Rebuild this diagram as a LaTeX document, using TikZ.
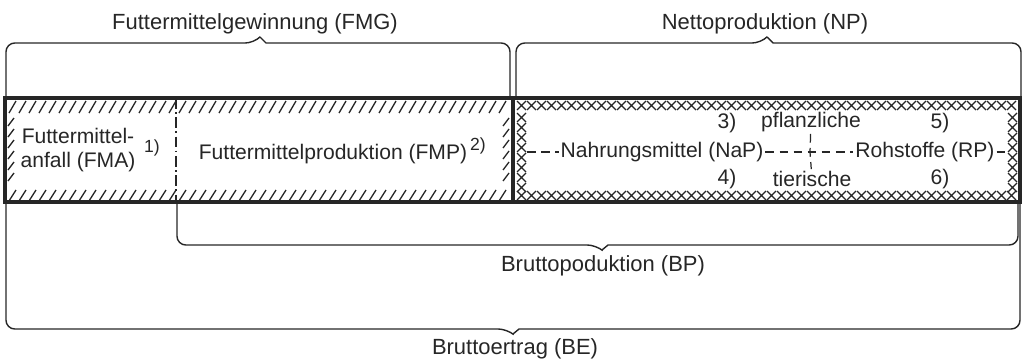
\documentclass[tikz,border=0pt]{standalone}
\usepackage{fontspec}
\setmainfont{Liberation Sans}

\tikzset{
    band/.style={line width=2.2pt},
    bracket/.style={line width=0.8pt, rounded corners=5pt},
    hatch/.style={line width=0.75pt},
    lbl/.style={font=\fontsize{12}{14}\selectfont, inner sep=1pt},
    biglbl/.style={font=\fontsize{12.5}{15}\selectfont, inner sep=1pt},
    note/.style={font=\fontsize{10}{12}\selectfont, inner sep=1pt},
    dashline/.style={line width=0.7pt, dash pattern=on 5pt off 3pt},
}

\begin{document}
\begin{tikzpicture}[x=0.02cm, y=-0.02cm, color=black!85]
    \useasboundingbox (0,0) rectangle (1023,362);

    % braces above
    \draw[bracket] (6,97) |- (254,43) [sharp corners] -- (260,37) -- (266,43)
        [rounded corners=5pt] -| (510,97);
    \draw[bracket] (516,97) |- (761,43) [sharp corners] -- (767,37) -- (773,43)
        [rounded corners=5pt] -| (1021,97);
    \node[biglbl] (fmg) at (255,24) {Futtermittelgewinnung (FMG)};
    \node[biglbl] (np) at (765,24) {Nettoproduktion (NP)};

    % braces below
    \draw[bracket] (177,203) |- (596,245) [sharp corners] -- (602,250) -- (608,245)
        [rounded corners=5pt] -| (1018,203);
    \draw[bracket] (6,203) |- (507,329) [sharp corners] -- (513,334) -- (519,329)
        [rounded corners=5pt] -| (1020,203);
    \node[biglbl] (bp) at (603,266) {Bruttopoduktion (BP)};
    \node[biglbl] (be) at (515,349) {Bruttoertrag (BE)};

    % hatching, left part
    \foreach \x in {9,19,...,505}
        \draw[hatch] (\x,113) -- ++(7,-12) (\x,201) -- ++(7,-11);
    \foreach \y in {126,137,...,186} {
        \draw[hatch] (8,\y) -- ++(6,-8);
        \draw[hatch] (503,\y) -- ++(6,-8);
    }

    % crosses, right part
    \foreach \x in {517,527,...,1007} {
        \draw[hatch] (\x,101) -- ++(9,9) (\x,110) -- ++(9,-9);
        \draw[hatch] (\x,191) -- ++(9,9) (\x,200) -- ++(9,-9);
    }
    \foreach \y in {113,123,...,183} {
        \draw[hatch] (517,\y) -- ++(9,9) (517,\y+9) -- ++(9,-9);
        \draw[hatch] (1008,\y) -- ++(9,9) (1008,\y+9) -- ++(9,-9);
    }

    % the band
    \draw[band] (5,98) rectangle (1020,202);
    \draw[band] (513,98) -- (513,202);
    \draw[line width=0.8pt, dash pattern=on 6pt off 2pt on 1pt off 2pt] (176,98) -- (176,202);

    % left part
    \node[lbl, align=center] (fma) at (78,150) {Futtermittel-\\anfall (FMA)};
    \node[note] (n1) at (152,148) {1)};
    \node[lbl] (fmp) at (333,154) {Futtermittelproduktion (FMP)};
    \node[note] (n2) at (478,146) {2)};

    % right part
    \node[lbl] (nap) at (662,152) {Nahrungsmittel (NaP)};
    \node[lbl] (rp) at (925,152) {Rohstoffe (RP)};
    \node[lbl] (pfl) at (811,122) {pflanzliche};
    \node[lbl] (tie) at (812,179) {tierische};
    \node[lbl] (n3) at (727,123) {3)};
    \node[lbl] (n5) at (940,123) {5)};
    \node[lbl] (n4) at (727,179) {4)};
    \node[lbl] (n6) at (940,179) {6)};
    \coordinate (lft) at (527,152);
    \coordinate (rgt) at (1008,152);
    \coordinate (mid) at (810,152);

    \draw[dashline] (lft) -- (nap);
    \draw[dashline] (nap) -- (mid) -- (rp);
    \draw[dashline] (rp) -- (rgt);
    \draw[dashline] (pfl) -- (mid) -- (tie);
\end{tikzpicture}
\end{document}
